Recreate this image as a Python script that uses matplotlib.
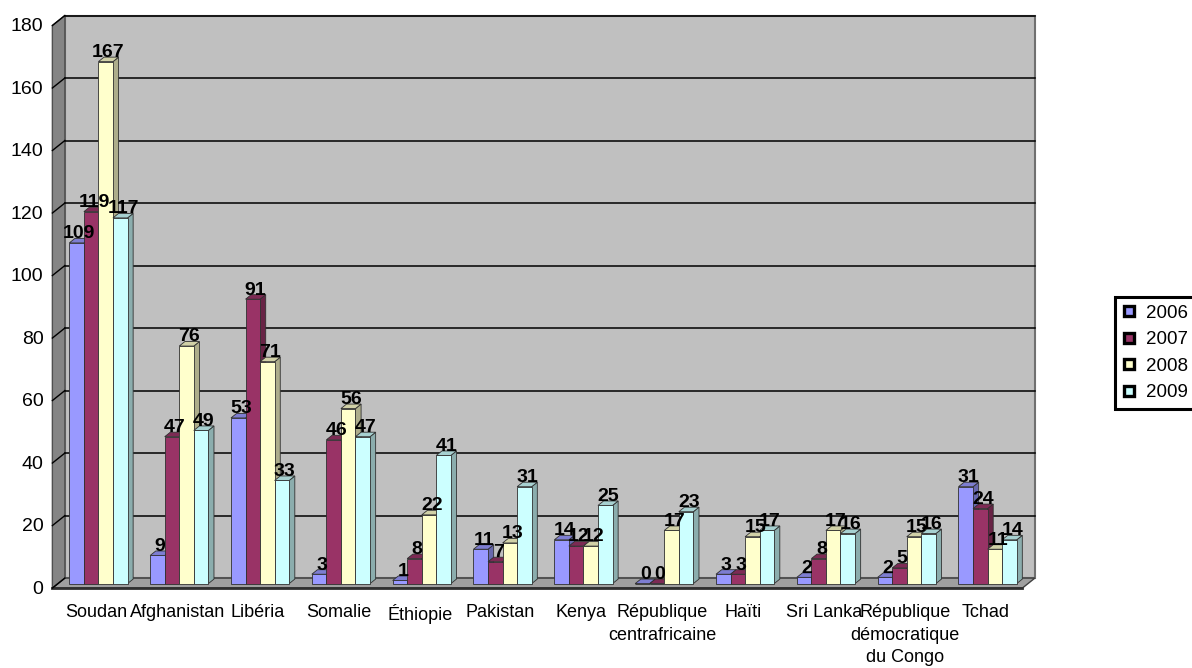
import matplotlib
matplotlib.use("Agg")
import matplotlib.pyplot as plt
from matplotlib.patches import Polygon
from matplotlib.lines import Line2D
import numpy as np

plt.rcParams['font.family'] = ['Liberation Sans', 'DejaVu Sans']

countries = ["Soudan", "Afghanistan", "Libéria", "Somalie", "Éthiopie", "Pakistan",
             "Kenya", "République\ncentrafricaine", "Haïti", "Sri Lanka",
             "République\ndémocratique\ndu Congo", "Tchad"]
years = ["2006", "2007", "2008", "2009"]
v2006 = [109, 9, 53, 3, 1, 11, 14, 0, 3, 2, 2, 31]
v2007 = [119, 47, 91, 46, 8, 7, 12, 0, 3, 8, 5, 24]
v2008 = [167, 76, 71, 56, 22, 13, 12, 17, 15, 17, 15, 11]
v2009 = [117, 49, 33, 47, 41, 31, 25, 23, 17, 16, 16, 14]
series = [v2006, v2007, v2008, v2009]
colors = ["#9999FF", "#993366", "#FFFFCC", "#CCFFFF"]
yticks = list(range(0, 181, 20))

fig = plt.figure(figsize=(11.92, 6.68), dpi=100)
W, H = 1192, 668
ax = fig.add_axes([58 / W, (H - 583.6) / H, 970 / W, (583.6 - 21) / H])
ax.set_xlim(-0.5, 11.5)
ax.set_ylim(0, 180)
ax.axis('off')

# pixel -> data unit conversion for the oblique depth effect
px_x = 970 / 12.0
px_y = (583.6 - 21) / 180.0
DX, DY = 1.25, 1.0


def off(d):
    return d * DX / px_x, d * DY / px_y


FRONT = -4.5
BACK = 5.5
BAR_D = 4.5


def pt(x, y, d):
    ox, oy = off(d)
    return (x + ox, y + oy)


x0, x1 = -0.5, 11.5
ymax = 180

# back wall
ax.add_patch(Polygon([pt(x0, 0, BACK), pt(x1, 0, BACK), pt(x1, ymax, BACK), pt(x0, ymax, BACK)],
                     closed=True, facecolor="#c0c0c0", edgecolor="#707070", lw=1.5,
                     zorder=1, clip_on=False))
# left wall
ax.add_patch(Polygon([pt(x0, 0, FRONT), pt(x0, ymax, FRONT), pt(x0, ymax, BACK), pt(x0, 0, BACK)],
                     closed=True, facecolor="#858585", edgecolor="#505050", lw=1.0,
                     zorder=1.1, clip_on=False))
# floor
ax.add_patch(Polygon([pt(x0, 0, FRONT), pt(x1, 0, FRONT), pt(x1, 0, BACK), pt(x0, 0, BACK)],
                     closed=True, facecolor="#a0a0a0", edgecolor="#404040", lw=1.0,
                     zorder=1.2, clip_on=False))
ax.add_line(Line2D([pt(x0, 0, FRONT)[0], pt(x1, 0, FRONT)[0]],
                   [pt(x0, 0, FRONT)[1], pt(x1, 0, FRONT)[1]],
                   color="#303030", lw=2.0, zorder=1.3, clip_on=False))

# gridlines on back and left walls
for t in yticks[1:]:
    a, b = pt(x0, t, BACK), pt(x1, t, BACK)
    ax.add_line(Line2D([a[0], b[0]], [a[1], b[1]], color="black", lw=1.1,
                       zorder=1.5, clip_on=False))
for t in yticks:
    a, b = pt(x0, t, FRONT), pt(x0, t, BACK)
    ax.add_line(Line2D([a[0], b[0]], [a[1], b[1]], color="black", lw=1.0,
                       zorder=1.5, clip_on=False))

# y tick labels on the front edge
for t in yticks:
    ax.annotate(str(t), xy=(x0, t), xytext=(-10.5, -4.0), textcoords="offset points",
                ha="right", va="center", fontsize=14, annotation_clip=False)


def shade(c, f):
    rgb = np.array(matplotlib.colors.to_rgb(c))
    return tuple(rgb * f)


bw = 0.18
xs = np.arange(len(countries))
for c in range(len(countries)):
    for s, vals in enumerate(series):
        k = c * 4 + s
        v = vals[c]
        xl = xs[c] + (s - 2) * bw
        xr = xl + bw
        z = 3 + k * 0.01
        side = Polygon([pt(xr, 0, 0), pt(xr, 0, BAR_D), pt(xr, v, BAR_D), pt(xr, v, 0)],
                       closed=True, facecolor=shade(colors[s], 0.68), edgecolor="#303030",
                       lw=0.6, zorder=z, clip_on=False)
        top = Polygon([pt(xl, v, 0), pt(xr, v, 0), pt(xr, v, BAR_D), pt(xl, v, BAR_D)],
                      closed=True, facecolor=shade(colors[s], 0.82), edgecolor="#303030",
                      lw=0.6, zorder=z + 0.003, clip_on=False)
        ax.add_patch(side)
        ax.add_patch(top)
        ax.bar(xl, v, width=bw, align="edge", color=colors[s], edgecolor="#303030",
               lw=0.6, zorder=z + 0.006, clip_on=False)
        ax.annotate(str(v), xy=(xl + bw / 2 + off(BAR_D / 2)[0], v + off(BAR_D)[1]),
                    xytext=(0, -2.8), textcoords="offset points", ha="center", va="bottom",
                    fontsize=14, fontweight="bold", zorder=10, annotation_clip=False)

# category labels
for c, name in enumerate(countries):
    ax.annotate(name, xy=(xs[c], 0), xytext=(-1.5, -15.0), textcoords="offset points",
                ha="center", va="top", fontsize=13, linespacing=1.4,
                annotation_clip=False)

handles = [Line2D([], [], marker="s", ls="none", markersize=6.5, markerfacecolor=col,
                  markeredgecolor="black", markeredgewidth=2.4) for col in colors]
leg = fig.legend(handles, years, loc="upper left", bbox_to_anchor=(1115 / W, 1 - 297 / H),
                 frameon=True, fancybox=False, edgecolor="black", framealpha=1,
                 fontsize=13.5, handlelength=0.7, handletextpad=0.55, labelspacing=0.5,
                 borderpad=0.4, borderaxespad=0)
leg.get_frame().set_linewidth(2.2)

fig.savefig("out.png", dpi=100)
